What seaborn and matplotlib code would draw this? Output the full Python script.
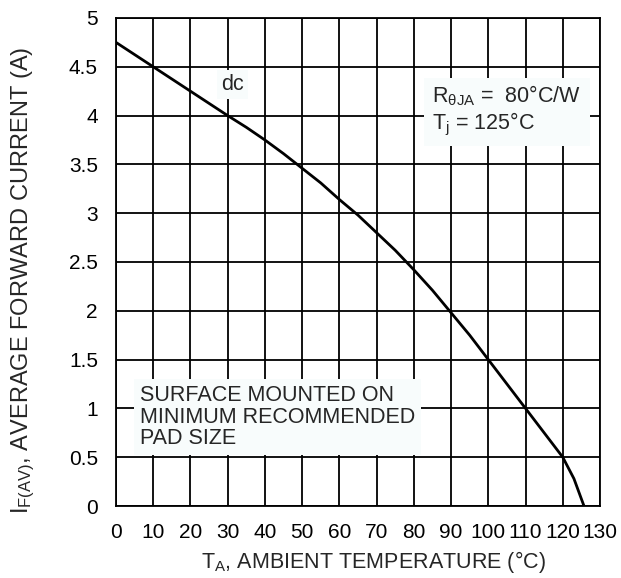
import matplotlib
matplotlib.use("Agg")
import matplotlib.pyplot as plt
import seaborn as sns
import pandas as pd

# curve
temp_c = [0, 5, 10, 15, 20, 25, 30, 35, 40, 45, 50, 55, 60, 65, 70, 75, 80,
          85, 90, 95, 100, 105, 110, 115, 120, 123, 125.7]
current_a = [4.75, 4.625, 4.5, 4.375, 4.25, 4.125, 4.0, 3.88, 3.75, 3.61, 3.46,
             3.31, 3.14, 2.98, 2.8, 2.62, 2.42, 2.21, 1.98, 1.75, 1.5, 1.25,
             1.0, 0.75, 0.5, 0.28, 0.0]
x_ticks = list(range(0, 131, 10))
y_ticks = [0, 0.5, 1, 1.5, 2, 2.5, 3, 3.5, 4, 4.5, 5]
y_tick_labels = ["0", "0.5", "1", "1.5", "2", "2.5", "3", "3.5", "4", "4.5", "5"]

df = pd.DataFrame({"temp": temp_c, "current": current_a})

sns.set_style("white")
plt.rcParams["font.family"] = ["Liberation Sans", "DejaVu Sans"]
plt.rcParams["mathtext.fontset"] = "custom"
plt.rcParams["mathtext.rm"] = "Liberation Sans"
plt.rcParams["mathtext.it"] = "Liberation Sans"

fig = plt.figure(figsize=(6.21, 5.78), dpi=100)
ax = fig.add_axes([116 / 621, 1 - 506 / 578, 484 / 621, 488 / 578])

sns.lineplot(data=df, x="temp", y="current", ax=ax, color="black", linewidth=2)

ax.set_xlim(0, 130)
ax.set_ylim(0, 5)
ax.set_xticks(x_ticks)
ax.set_yticks(y_ticks)
ax.set_yticklabels(y_tick_labels)
ax.grid(True, color="black", linewidth=1.3)
ax.set_axisbelow(True)
for s in ax.spines.values():
    s.set_color("black")
    s.set_linewidth(1.3)
ax.tick_params(axis="both", length=0, labelsize=15, colors="black")
ax.tick_params(axis="x", pad=12)
ax.tick_params(axis="y", pad=13)

ax.set_xlabel(r"T$_{\mathrm{A}}$, AMBIENT TEMPERATURE (°C)", fontsize=15.5)
ax.set_ylabel(r"I$_{\mathrm{F(AV)}}$, AVERAGE FORWARD CURRENT (A)", fontsize=17)
ax.xaxis.set_label_coords(0.531, -0.089)
ax.yaxis.set_label_coords(-0.163, 0.462)

ax.text(31.4, 4.32, "dc", fontsize=15.5, ha="center", va="center",
        bbox=dict(facecolor="#f8fcfc", edgecolor="none", pad=3))
ax.text(85.0, 3.77, r"R$_{\mathrm{θJA}}$ =  80°C/W" + "\n" + r"T$_{\mathrm{j}}$ = 125°C",
        fontsize=15.5, ha="left", va="bottom", linespacing=1.15,
        bbox=dict(facecolor="#f8fcfc", edgecolor="none", pad=6))
ax.text(6.4, 0.58, "SURFACE MOUNTED ON\nMINIMUM RECOMMENDED\nPAD SIZE",
        fontsize=15.5, ha="left", va="bottom", linespacing=1.05,
        bbox=dict(facecolor="#f8fcfc", edgecolor="none", pad=4))

fig.savefig("out.png", dpi=100)
